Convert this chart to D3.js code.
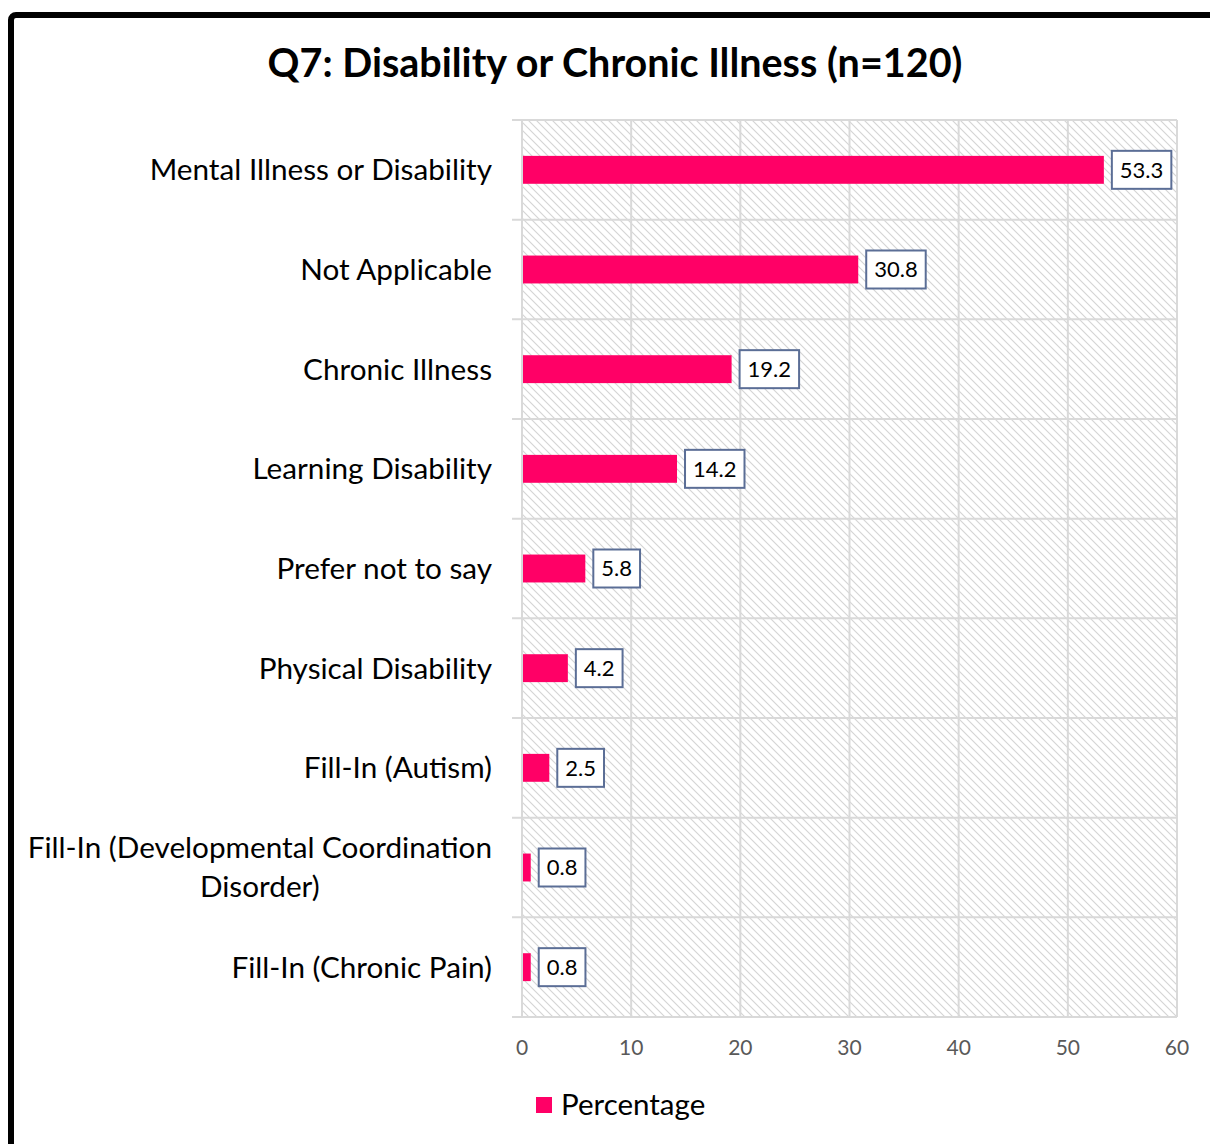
<!DOCTYPE html>
<html>
<head>
<meta charset="utf-8">
<script src="https://cdn.jsdelivr.net/npm/d3@7"></script>
<style>
  body { margin: 0; background: #fff; }
  svg { display: block; font-family: Lato, "Open Sans", sans-serif; }
</style>
</head>
<body>
<svg width="1210" height="1144"></svg>
<script>
const categories = [
  "Mental Illness or Disability",
  "Not Applicable",
  "Chronic Illness",
  "Learning Disability",
  "Prefer not to say",
  "Physical Disability",
  "Fill-In (Autism)",
  "Fill-In (Developmental Coordination|Disorder)",
  "Fill-In (Chronic Pain)"
];
const percentages = [53.3, 30.8, 19.2, 14.2, 5.8, 4.2, 2.5, 0.8, 0.8];
const xTicks = [0, 10, 20, 30, 40, 50, 60];
const seriesName = "Percentage";
const title = "Q7: Disability or Chronic Illness (n=120)";

const svg = d3.select("svg");
const pink = "#ff0066";
const grid = "#d9d9d9";

const plot = { left: 522, right: 1177, top: 120, bottom: 1017 };

// outer frame (runs off the right/bottom edge)
svg.append("rect")
  .attr("x", 11).attr("y", 15)
  .attr("width", 1400).attr("height", 1400)
  .attr("rx", 5)
  .attr("fill", "#fff")
  .attr("stroke", "#000")
  .attr("stroke-width", 6);

// hatch pattern
const defs = svg.append("defs");
const pat = defs.append("pattern")
  .attr("id", "hatch")
  .attr("patternUnits", "userSpaceOnUse")
  .attr("width", 8).attr("height", 8);
pat.append("rect").attr("width", 8).attr("height", 8).attr("fill", "#fff");
pat.append("path")
  .attr("d", "M-2,-2 L10,10 M-2,6 L2,10 M6,-2 L10,2")
  .attr("stroke", "#d4d4d4")
  .attr("stroke-width", 1.1);

svg.append("text")
  .attr("x", 615).attr("y", 77)
  .attr("text-anchor", "middle")
  .attr("font-size", 39.5)
  .attr("font-weight", "bold")
  .attr("fill", "#000")
  .text(title);

const x = d3.scaleLinear()
  .domain([0, 60])
  .range([plot.left, plot.right]);

const y = d3.scaleBand()
  .domain(categories)
  .range([plot.top, plot.bottom])
  .paddingInner(0.72)
  .paddingOuter(0.36);

const bandStep = y.step();

svg.append("rect")
  .attr("x", plot.left).attr("y", plot.top)
  .attr("width", plot.right - plot.left)
  .attr("height", plot.bottom - plot.top)
  .attr("fill", "url(#hatch)");

// vertical gridlines
svg.append("g")
  .selectAll("line")
  .data(xTicks)
  .join("line")
  .attr("x1", d => x(d)).attr("x2", d => x(d))
  .attr("y1", plot.top).attr("y2", plot.bottom)
  .attr("stroke", grid).attr("stroke-width", 2);

// horizontal category boundaries (with short ticks to the left)
const bounds = d3.range(categories.length + 1).map(i => plot.top + i * bandStep);
svg.append("g")
  .selectAll("line")
  .data(bounds)
  .join("line")
  .attr("x1", plot.left - 10).attr("x2", plot.right)
  .attr("y1", d => d).attr("y2", d => d)
  .attr("stroke", grid).attr("stroke-width", 2);

// x tick labels
svg.append("g")
  .selectAll("text")
  .data(xTicks)
  .join("text")
  .attr("x", d => x(d))
  .attr("y", 1055)
  .attr("text-anchor", "middle")
  .attr("font-size", 21)
  .attr("fill", "#595959")
  .text(d => d);

// category labels
const catSize = 29.7;
const catG = svg.append("g");
categories.forEach(c => {
  const lines = c.split("|");
  const cy = y(c) + y.bandwidth() / 2;
  const lh = 39;
  if (lines.length === 1) {
    catG.append("text")
      .attr("x", 492).attr("y", cy)
      .attr("dy", "0.35em")
      .attr("text-anchor", "end")
      .attr("font-size", catSize)
      .attr("fill", "#000")
      .text(lines[0]);
  } else {
    const t = catG.append("text")
      .attr("font-size", catSize)
      .attr("fill", "#000")
      .attr("text-anchor", "middle");
    const first = t.append("tspan").attr("x", 0).attr("y", cy - lh / 2).attr("dy", "0.35em").text(lines[0]);
    const w = first.node().getComputedTextLength();
    const cx = 492 - w / 2;
    t.selectAll("tspan").attr("x", cx);
    t.append("tspan").attr("x", cx).attr("y", cy + lh / 2).attr("dy", "0.35em").text(lines[1]);
  }
});

// bars
svg.append("g")
  .selectAll("rect")
  .data(percentages)
  .join("rect")
  .attr("x", x(0) + 1)
  .attr("y", (d, i) => y(categories[i]))
  .attr("width", d => x(d) - x(0) - 1)
  .attr("height", y.bandwidth())
  .attr("fill", pink);

// data labels
const lab = svg.append("g");
percentages.forEach((v, i) => {
  const cy = y(categories[i]) + y.bandwidth() / 2;
  const g = lab.append("g");
  const box = g.append("rect")
    .attr("fill", "#fff")
    .attr("stroke", "#5b6e96")
    .attr("stroke-width", 2);
  const t = g.append("text")
    .attr("y", cy).attr("dy", "0.35em")
    .attr("font-size", 22)
    .attr("fill", "#000")
    .text(d3.format(".1f")(v));
  const w = t.node().getComputedTextLength();
  const bx = x(v) + 8;
  const bw = w + 16;
  box.attr("x", bx).attr("y", cy - 19).attr("width", bw).attr("height", 38);
  t.attr("x", bx + 8);
});

// legend
svg.append("rect")
  .attr("x", 536).attr("y", 1097)
  .attr("width", 16).attr("height", 16)
  .attr("fill", pink);
svg.append("text")
  .attr("x", 561).attr("y", 1105)
  .attr("dy", "0.35em")
  .attr("font-size", 29.5)
  .attr("fill", "#000")
  .text(seriesName);
</script>
</body>
</html>
